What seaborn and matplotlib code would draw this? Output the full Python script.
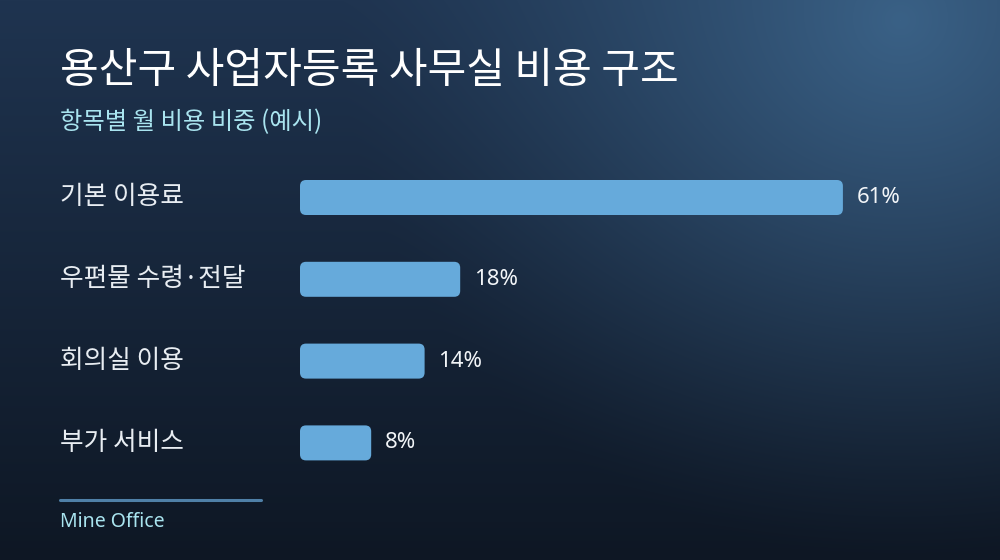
import numpy as np
import pandas as pd
import matplotlib
matplotlib.use("Agg")
import matplotlib.pyplot as plt
import matplotlib.transforms as mtransforms
from matplotlib.patches import FancyBboxPatch
from matplotlib.colors import to_rgb
import seaborn as sns

# data
categories = ["기본 이용료", "우편물 수령·전달", "회의실 이용", "부가 서비스"]
shares = [61, 18, 14, 8]
title = "용산구 사업자등록 사무실 비용 구조"
subtitle = "항목별 월 비용 비중 (예시)"
source = "Mine Office"

df = pd.DataFrame({"item": categories, "share": shares})

sns.set_theme(style="white")
plt.rcParams["font.family"] = ["Noto Sans CJK KR", "DejaVu Sans"]
latin = ["Noto Sans", "DejaVu Sans"]

W, H = 1000, 560
fig = plt.figure(figsize=(W / 100, H / 100), dpi=100)

# background: vertical gradient plus a soft glow in the upper right
bg_ax = fig.add_axes([0, 0, 1, 1])
yy, xx = np.mgrid[0:H, 0:W]
top = np.array(to_rgb("#1f3450"))
bot = np.array(to_rgb("#0e1724"))
t = (yy / H)[..., None]
img = top * (1 - t) + bot * t
glow = np.array(to_rgb("#3a6186"))
d = np.sqrt(((xx - 900) / 560.0) ** 2 + ((yy - 20) / 540.0) ** 2)
g = np.clip(1 - d, 0, 1)[..., None] ** 1.3
img = img * (1 - g) + glow * g
bg_ax.imshow(img, aspect="auto", extent=[0, 1, 0, 1])
bg_ax.set_axis_off()

# bar axes, pixel layout
px_x = 8.9      # px per percent
px_y = 81.8     # px per category
ax_left, ax_right = 300, 1000
ax_top = 197.5 - px_y / 2
ax_h = px_y * 4
ax = fig.add_axes([ax_left / W, 1 - (ax_top + ax_h) / H, (ax_right - ax_left) / W, ax_h / H])
ax.patch.set_alpha(0)

bar_color = "#66aadb"
sns.barplot(data=df, x="share", y="item", orient="h", color=bar_color,
            width=35 / px_y, saturation=1, ax=ax)
ax.set_xlim(0, (ax_right - ax_left) / px_x)
ax.set_ylim(len(categories) - 0.5, -0.5)
ax.set_axis_off()

# round the bar corners
for p in list(ax.patches):
    x0, y0 = p.get_x(), p.get_y()
    w, h = p.get_width(), p.get_height()
    p.remove()
    r = 6 / px_x
    fb = FancyBboxPatch((x0, y0), w, h,
                        boxstyle=f"round,pad=0,rounding_size={r}",
                        mutation_aspect=px_x / px_y,
                        facecolor=bar_color, edgecolor="none")
    ax.add_patch(fb)

# value labels and category labels
lab_tr = mtransforms.blended_transform_factory(fig.transFigure, ax.transData)
for i, (cat, v) in enumerate(zip(categories, shares)):
    ax.annotate(f"{v}%", xy=(v, i), xytext=(10, 0), textcoords="offset points",
                ha="left", va="center", color="#f2f5f8", fontsize=16, family=latin)
    ax.text(60 / W, i, cat, transform=lab_tr, ha="left", va="center",
            color="#e8edf2", fontsize=18.5)

# titles
fig.text(60 / W, 1 - 71 / H, title, ha="left", va="center",
         color="white", fontsize=30.3, fontweight="medium")
fig.text(60 / W, 1 - 122 / H, subtitle, ha="left", va="center",
         color="#a9e4ef", fontsize=17.5)

# footer rule and source
fig.add_artist(plt.Line2D([60 / W, 261 / W], [1 - 500 / H, 1 - 500 / H],
                          color="#4f80a8", linewidth=2.2))
fig.text(60 / W, 1 - 522 / H, source, ha="left", va="center",
         color="#a9e4ef", fontsize=14, family=latin)

fig.savefig("out.png", dpi=100)
